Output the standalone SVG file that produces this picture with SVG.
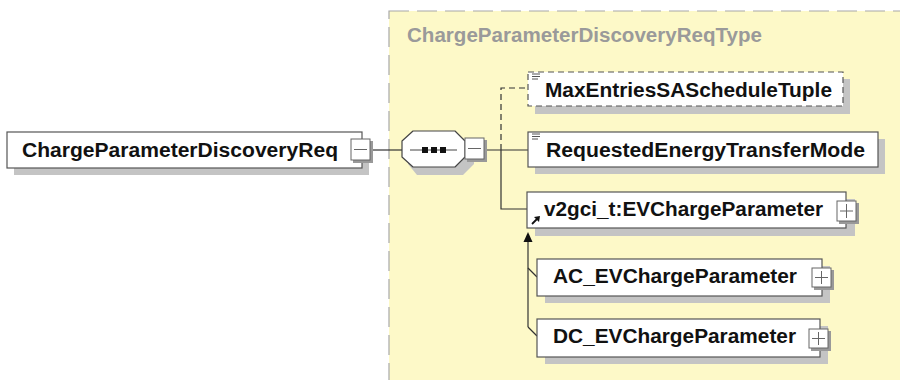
<svg xmlns="http://www.w3.org/2000/svg" width="900" height="380" viewBox="0 0 900 380">
<style>
  .t { font-family: "Liberation Sans", Arial, sans-serif; font-weight: bold; font-size: 20px; fill: #111; }
  .title { font-family: "Liberation Sans", Arial, sans-serif; font-weight: bold; font-size: 20px; fill: #9a9a9a; }
  .box { fill: #fff; stroke: #555; stroke-width: 1.2; }
  .dbox { fill: #fff; stroke: #555; stroke-width: 1.2; stroke-dasharray: 6 4; }
  .shadow { fill: #c4c4c4; }
  .ib { fill: #fff; stroke: #666; stroke-width: 1; }
  .ibs { fill: #999; }
  .sym { stroke: #666; stroke-width: 1; fill: none; }
  .conn { stroke: #333; stroke-width: 1.2; fill: none; }
  .dconn { stroke: #333; stroke-width: 1.2; fill: none; stroke-dasharray: 6 4; }
  .doc { stroke: #555; stroke-width: 1; }
</style>
<rect x="0" y="0" width="900" height="380" fill="#fff"/>
<g id="type-area">
  <rect x="389" y="11" width="520" height="380" fill="#fdf9c8" stroke="#a8a8a8" stroke-width="1.2" stroke-dasharray="20 8"/>
  <text class="title" x="407" y="42" textLength="355" lengthAdjust="spacingAndGlyphs">ChargeParameterDiscoveryReqType</text>
</g>
<g id="connectors">
  <line class="conn" x1="371" y1="150" x2="402" y2="150"/>
  <line class="conn" x1="485" y1="150" x2="528" y2="150"/>
  <polyline class="dconn" points="501,150 501,88 528,88"/>
  <polyline class="conn" points="501,150 501,209 527,209"/>
  <line class="conn" x1="528" y1="240" x2="528" y2="327"/>
  <polygon points="528,232 523.5,242 532.5,242" fill="#111"/>
  <line class="conn" x1="528" y1="268" x2="537" y2="277"/>
  <line class="conn" x1="528" y1="327" x2="537" y2="336"/>
</g>
<g id="ChargeParameterDiscoveryReq">
  <rect class="shadow" x="14" y="139" width="355" height="36"/>
  <rect class="box" x="7" y="132" width="355" height="36"/>
  <text class="t" x="22" y="157" textLength="316" lengthAdjust="spacingAndGlyphs">ChargeParameterDiscoveryReq</text>
  <rect class="ibs" x="353" y="141" width="20" height="22"/>
  <rect class="ib" x="351" y="139" width="19" height="21"/>
  <line class="sym" x1="354" y1="149.5" x2="367" y2="149.5"/>
</g>
<g id="sequence">
  <path class="shadow" d="M417,138 L463,138 L474,149 L474,164 L463,175 L417,175 L408,164 L408,149 Z"/>
  <path d="M413,131 L455,131 L465,141 L465,157 L455,167 L413,167 L402,157 L402,141 Z" fill="#fff" stroke="#444" stroke-width="1.2" stroke-linejoin="round"/>
  <line x1="410" y1="150" x2="457" y2="150" stroke="#444" stroke-width="1"/>
  <rect x="422" y="147" width="6" height="6" fill="#111"/>
  <rect x="431" y="147" width="6" height="6" fill="#111"/>
  <rect x="440" y="147" width="6" height="6" fill="#111"/>
  <rect class="ibs" x="467" y="140" width="20" height="22"/>
  <rect class="ib" x="465" y="138" width="19" height="21"/>
  <line class="sym" x1="468" y1="148.5" x2="481" y2="148.5"/>
</g>
<g id="MaxEntriesSAScheduleTuple">
  <rect class="shadow" x="535" y="79" width="315" height="35"/>
  <rect class="dbox" x="528" y="72" width="315" height="34"/>
  <line class="doc" x1="532" y1="74" x2="540" y2="74"/>
  <line class="doc" x1="532" y1="76.5" x2="540" y2="76.5"/>
  <line class="doc" x1="532" y1="79" x2="538" y2="79"/>
  <text class="t" x="545" y="97" textLength="287" lengthAdjust="spacingAndGlyphs">MaxEntriesSAScheduleTuple</text>
</g>
<g id="RequestedEnergyTransferMode">
  <rect class="shadow" x="535" y="139" width="350" height="35"/>
  <rect class="box" x="528" y="132" width="350" height="35"/>
  <line class="doc" x1="532" y1="134" x2="540" y2="134"/>
  <line class="doc" x1="532" y1="136.5" x2="540" y2="136.5"/>
  <line class="doc" x1="532" y1="139" x2="538" y2="139"/>
  <text class="t" x="546" y="157" textLength="319" lengthAdjust="spacingAndGlyphs">RequestedEnergyTransferMode</text>
</g>
<g id="EVChargeParameter">
  <rect class="shadow" x="535" y="199" width="320" height="37"/>
  <rect class="box" x="527" y="192" width="319" height="36"/>
  <path d="M532,224 L538,218" stroke="#111" stroke-width="1.8"/>
  <path d="M540,216 L534,217 L539,222 Z" fill="#111"/>
  <text class="t" x="544" y="216" textLength="279" lengthAdjust="spacingAndGlyphs">v2gci_t:EVChargeParameter</text>
  <rect class="ibs" x="839" y="203" width="20" height="21"/>
  <rect class="ib" x="837" y="201" width="19" height="20"/>
  <line class="sym" x1="840" y1="211" x2="853" y2="211"/>
  <line class="sym" x1="846.5" y1="204" x2="846.5" y2="218"/>
</g>
<g id="AC_EVChargeParameter">
  <rect class="shadow" x="545" y="266" width="285" height="37"/>
  <rect class="box" x="537" y="259" width="285" height="37"/>
  <text class="t" x="553" y="283" textLength="244" lengthAdjust="spacingAndGlyphs">AC_EVChargeParameter</text>
  <rect class="ibs" x="814" y="270" width="20" height="20"/>
  <rect class="ib" x="812" y="268" width="19" height="19"/>
  <line class="sym" x1="815" y1="277.5" x2="828" y2="277.5"/>
  <line class="sym" x1="821.5" y1="271" x2="821.5" y2="284"/>
</g>
<g id="DC_EVChargeParameter">
  <rect class="shadow" x="545" y="326" width="283" height="38"/>
  <rect class="box" x="537" y="319" width="283" height="38"/>
  <text class="t" x="553" y="343" textLength="243" lengthAdjust="spacingAndGlyphs">DC_EVChargeParameter</text>
  <rect class="ibs" x="811" y="331" width="20" height="20"/>
  <rect class="ib" x="809" y="329" width="19" height="19"/>
  <line class="sym" x1="812" y1="338.5" x2="825" y2="338.5"/>
  <line class="sym" x1="818.5" y1="332" x2="818.5" y2="345"/>
</g>
</svg>
